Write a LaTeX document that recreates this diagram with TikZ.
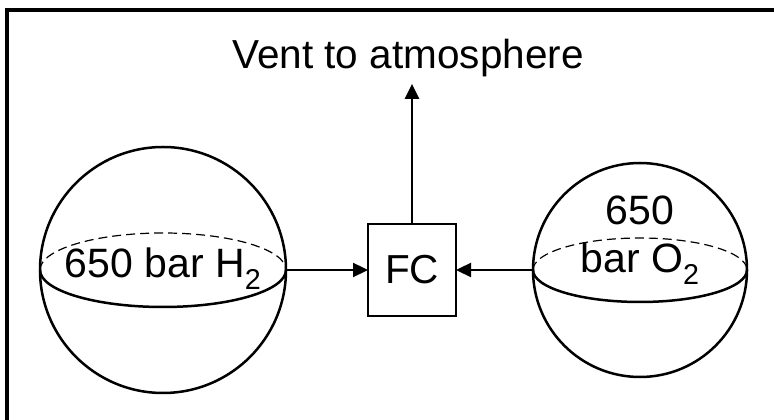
\documentclass[tikz,border=0pt]{standalone}
\usepackage{fontspec}
\setmainfont{Liberation Sans}
\usetikzlibrary{positioning,arrows.meta}

\begin{document}
\begin{tikzpicture}[
    x=1pt, y=1pt,
    font=\fontsize{41}{48}\selectfont,
    tank/.style={circle, draw, line width=2.5pt, inner sep=0pt, outer sep=0pt},
    cell/.style={draw, line width=2.3pt, minimum width=88pt, minimum height=92pt, inner sep=0pt, outer sep=0pt, font=\fontsize{40.5}{44}\selectfont},
    arrow/.style={-{Triangle[length=15pt,width=14pt]}, line width=2.3pt},
    equator/.style={line width=2.5pt},
    backside/.style={line width=1.2pt, dash pattern=on 9pt off 5pt},
    frame/.style={line width=3.2pt}
  ]
    \useasboundingbox (0,0) rectangle (774,420);
    \draw[frame] (7,410) rectangle (800,-20);

    \node[tank, minimum size=246pt] (htank) at (163,150) {};
    \node[tank, minimum size=214pt] (otank) at (640,150) {};
    \node[cell] (fc) at (412,150) {FC};
    \node[font=\fontsize{40.5}{44}\selectfont, inner sep=7pt, outer sep=0pt] (vent) at (408,362) {Vent to atmosphere};

    % equators, back half dashed
    \draw[backside] (htank.west) arc[start angle=180, end angle=0, x radius=123, y radius=37];
    \draw[equator] (htank.west) arc[start angle=180, end angle=360, x radius=123, y radius=37];
    \draw[backside] (otank.west) arc[start angle=180, end angle=0, x radius=107, y radius=32];
    \draw[equator] (otank.west) arc[start angle=180, end angle=360, x radius=107, y radius=32];

    \node[anchor=base] (hlabel) at (163,142) {650 bar H\textsubscript{2}};
    \node[align=center] (olabel) at (640,180) {650\\bar O\textsubscript{2}};

    \draw[arrow] (htank.east) -- (fc.west);
    \draw[arrow] (otank.west) -- (fc.east);
    \draw[arrow] (fc.north) -- (fc.north |- vent.south);
\end{tikzpicture}
\end{document}
